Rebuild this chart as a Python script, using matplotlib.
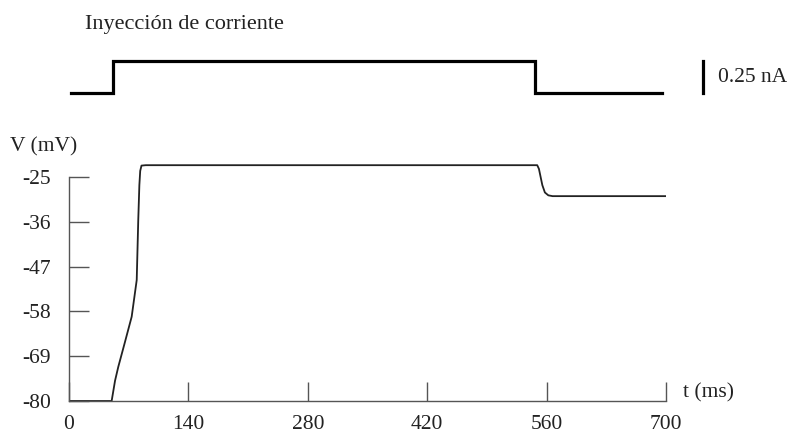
import matplotlib
matplotlib.use("Agg")
from matplotlib import pyplot as plt

plt.rcParams['font.family'] = ['Liberation Serif', 'DejaVu Serif']
plt.rcParams['axes.unicode_minus'] = False

# current injection step (nA)
i_t = [2, 52, 52, 546, 546, 695]
i_val = [0, 0, 0.25, 0.25, 0, 0]

# membrane voltage (mV)
v_t = [0, 50, 54, 57.8, 65, 73.5, 79.4, 81.2, 82.5, 83.5, 85, 90, 300, 549, 551,
       553, 555, 558, 562, 567, 700]
v_val = [-80, -80, -75, -71.6, -66, -59.3, -50.3, -35.6, -27, -23.5, -22.2, -22.1, -22.1,
         -22.1, -23, -25, -27, -28.8, -29.5, -29.7, -29.7]

x_ticks = [0, 140, 280, 420, 560, 700]
y_ticks = [-80, -69, -58, -47, -36, -25]

W, H = 798, 434
fig = plt.figure(figsize=(W / 100, H / 100), dpi=100)

# pixel geometry
x0, x700 = 69, 666
y80, y25 = 401, 177
pxms = (x700 - x0) / 700
pxmv = (y80 - y25) / 55

col_ax = '#555555'
col_txt = '#222222'
fs = 15.5

# voltage axes
top_v = -20
ax = fig.add_axes([x0 / W, 1 - y80 / H, (x700 - x0) / W, (y80 - y25 + 5 * pxmv) / H])
ax.plot(v_t, v_val, color='#222222', lw=1.3)
ax.set_xlim(0, 700)
ax.set_ylim(-80, top_v)
for s in ['top', 'right']:
    ax.spines[s].set_visible(False)
ax.spines['left'].set_bounds(-80, -25)
for s in ['left', 'bottom']:
    ax.spines[s].set_color(col_ax)
    ax.spines[s].set_linewidth(1.0)
ax.set_xticks(x_ticks)
ax.set_yticks(y_ticks)
ax.tick_params(axis='y', direction='in', length=14.5, width=1.0, color=col_ax,
               pad=13, labelsize=fs, labelcolor=col_txt)
ax.tick_params(axis='x', direction='in', length=14, width=1.0, color=col_ax,
               pad=10, labelsize=fs, labelcolor=col_txt)
ax.text(-59 / pxms, -25 + (177 - 147) / pxmv, 'V (mV)', fontsize=fs, color=col_txt,
        va='center', ha='left', clip_on=False)
ax.text(700 + 17 / pxms, -80 + (401 - 393) / pxmv, 't (ms)', fontsize=fs, color=col_txt,
        va='center', ha='left', clip_on=False)

# current axes
y0c, y1c = 93.3, 61
pxna = (y0c - y1c) / 0.25
bot_px, top_px = 105, 50
axc = fig.add_axes([x0 / W, 1 - bot_px / H, 800 * pxms / W, (bot_px - top_px) / H])
axc.plot(i_t, i_val, color='black', lw=2.3, solid_joinstyle='miter')
axc.set_xlim(0, 800)
axc.set_ylim(-(bot_px - y0c) / pxna, 0.25 + (y1c - top_px) / pxna)
axc.axis('off')
# scale bar
axc.plot([743.5, 743.5], [0, 0.25], color='black', lw=2.3)
axc.text(761, 0.125, '0.25 nA', fontsize=fs, color=col_txt, va='center', ha='left')

fig.text(85 / W, 1 - 25 / H, 'Inyección de corriente', fontsize=16, color=col_txt,
         va='center', ha='left')

fig.savefig('out.png', dpi=100)
